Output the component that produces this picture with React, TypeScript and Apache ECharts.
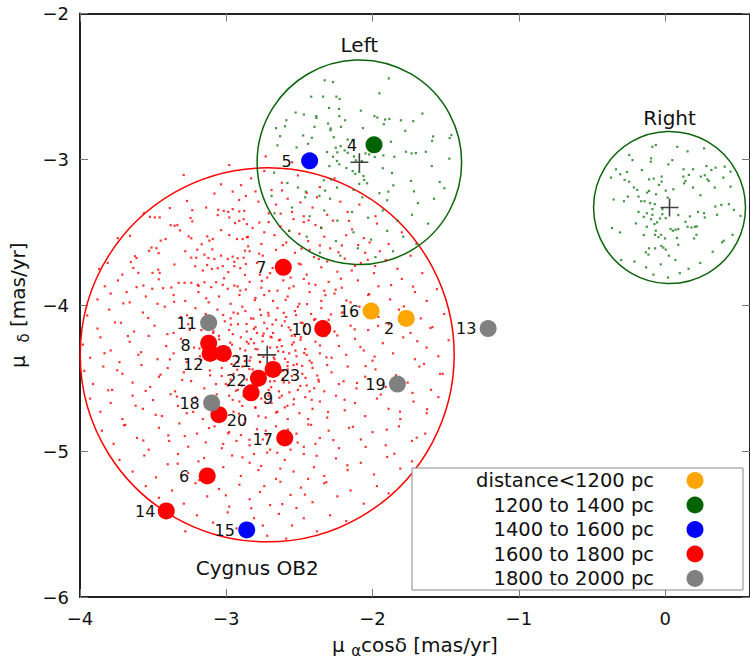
import React, { useEffect, useRef } from 'react';
import * as echarts from 'echarts';

const FONT = '"DejaVu Sans", sans-serif';

// ---- Data -----------------------------------------------------------
const starIds = ['2', '4', '5', '6', '7', '8', '9', '10', '11', '12', '13', '14', '15', '16', '17', '18', '19', '20', '21', '22', '23'];
const starPmRa = [-1.77, -1.99, -2.43, -3.13, -2.61, -3.12, -2.83, -2.34, -3.12, -3.11, -1.21, -3.41, -2.86, -2.01, -2.60, -3.10, -1.83, -3.05, -3.02, -2.78, -2.68];
const starPmDec = [-4.09, -2.90, -3.01, -5.17, -3.74, -4.26, -4.60, -4.16, -4.12, -4.33, -4.16, -5.41, -5.54, -4.04, -4.91, -4.67, -4.54, -4.75, -4.33, -4.50, -4.44];
const starBin = [0, 1, 2, 3, 3, 3, 3, 3, 4, 3, 4, 3, 2, 0, 3, 4, 4, 3, 3, 3, 3];

const distanceBins = ['distance<1200 pc', '1200 to 1400 pc', '1400 to 1600 pc', '1600 to 1800 pc', '1800 to 2000 pc'];
const binColors = ['#FFA500', '#006400', '#0000FF', '#FF0000', '#808080'];

const regionNames = ['Cygnus OB2', 'Left', 'Right'];
const regionCenters: [number, number][] = [[-2.72, -4.34], [-2.09, -3.02], [0.03, -3.33]];
const regionRadii = [1.28, 0.70, 0.52];
const regionColors = ['#FF0000', '#0B640B', '#0B640B'];

const xTicks = { min: -4, max: 0.58, interval: 1 };
const yTicks = { min: -6, max: -2, interval: 1 };

const cygnusField: [number, number][] = [
  [-3.291, -3.107], [-2.979, -3.039], [-3.035, -3.171], [-2.899, -3.177], [-2.956, -3.221], [-3.081, -3.234], [-3.268, -3.285], [-2.866, -3.251],
  [-3.386, -3.334], [-3.232, -3.348], [-3.137, -3.330], [-3.054, -3.346], [-3.017, -3.353], [-2.986, -3.360], [-2.956, -3.341], [-2.911, -3.357], [-2.877, -3.353],
  [-3.563, -3.369], [-3.522, -3.394], [-3.488, -3.398], [-3.455, -3.398], [-3.058, -3.382], [-2.979, -3.398], [-2.911, -3.421], [-2.881, -3.410],
  [-3.380, -3.451], [-3.353, -3.455], [-3.334, -3.451], [-3.232, -3.425], [-2.940, -3.437], [-2.859, -3.444],
  [-3.257, -3.528], [-3.239, -3.541], [-3.130, -3.528], [-3.115, -3.557], [-3.092, -3.546], [-3.035, -3.485], [-2.979, -3.519], [-2.927, -3.546], [-2.859, -3.534],
  [-3.742, -3.540], [-3.658, -3.524], [-3.414, -3.546], [-3.448, -3.557], [-3.511, -3.604], [-3.477, -3.609], [-3.527, -3.627], [-3.280, -3.630], [-3.198, -3.619],
  [-3.624, -3.664], [-3.613, -3.676], [-3.239, -3.674], [-3.205, -3.674], [-3.149, -3.653], [-3.122, -3.676], [-3.081, -3.683],
  [-3.035, -3.660], [-2.990, -3.683], [-2.956, -3.667], [-2.922, -3.678], [-2.881, -3.674], [-2.888, -3.546], [-2.850, -3.596], [-2.872, -3.626],
  [-3.869, -3.751], [-3.810, -3.710], [-3.635, -3.744], [-3.601, -3.778], [-3.710, -3.790], [-3.504, -3.778], [-3.465, -3.756], [-3.455, -3.778],
  [-3.212, -3.733], [-3.160, -3.762], [-3.130, -3.724], [-3.098, -3.751], [-3.058, -3.746], [-3.024, -3.732], [-2.986, -3.773], [-2.945, -3.732], [-2.904, -3.746], [-2.866, -3.717],
  [-3.681, -3.910], [-3.613, -3.876], [-3.506, -3.887], [-3.431, -3.883], [-3.375, -3.878], [-3.325, -3.846], [-3.285, -3.846], [-3.239, -3.846], [-3.194, -3.860],
  [-3.149, -3.842], [-3.103, -3.876], [-3.069, -3.842], [-3.024, -3.860], [-2.990, -3.887], [-2.945, -3.865], [-2.904, -3.899], [-2.866, -3.892],
  [-2.73, -2.98], [-2.55, -3.02], [-2.83, -3.13], [-2.74, -3.08], [-2.69, -3.21], [-2.62, -3.16], [-2.58, -3.27], [-2.51, -3.11], [-2.45, -3.23], [-2.41, -3.33],
  [-2.36, -3.19], [-2.31, -3.38], [-2.22, -3.29], [-2.17, -3.36], [-2.09, -3.31], [-2.78, -3.29], [-2.71, -3.37], [-2.66, -3.31], [-2.55, -3.36], [-2.47, -3.39],
  [-2.80, -3.22], [-2.38, -3.26], [-1.98, -3.39], [-2.26, -3.13],
  [-2.82, -3.47], [-2.76, -3.58], [-2.71, -3.43], [-2.67, -3.52], [-2.63, -3.46], [-2.59, -3.57], [-2.54, -3.41], [-2.50, -3.51], [-2.44, -3.56], [-2.39, -3.45],
  [-2.33, -3.53], [-2.27, -3.42], [-2.21, -3.59], [-2.14, -3.48], [-2.06, -3.54], [-1.97, -3.44], [-1.89, -3.58], [-1.80, -3.50], [-2.74, -3.50], [-2.57, -3.49],
  [-2.36, -3.59], [-2.18, -3.52], [-2.02, -3.57], [-2.47, -3.43],
  [-2.84, -3.63], [-2.79, -3.71], [-2.75, -3.66], [-2.70, -3.78], [-2.66, -3.62], [-2.61, -3.69], [-2.57, -3.76], [-2.53, -3.64], [-2.49, -3.72], [-2.45, -3.79],
  [-2.40, -3.67], [-2.35, -3.74], [-2.29, -3.61], [-2.24, -3.77], [-2.19, -3.68], [-2.12, -3.73], [-2.05, -3.64], [-1.99, -3.78], [-1.91, -3.69], [-1.83, -3.75],
  [-1.74, -3.66], [-1.66, -3.78], [-2.77, -3.79], [-2.63, -3.74], [-2.43, -3.62], [-2.31, -3.70], [-2.08, -3.71], [-1.95, -3.63],
  [-3.88, -3.96], [-3.79, -3.92], [-3.66, -3.98], [-3.55, -3.94], [-3.47, -3.99], [-3.36, -3.93], [-3.28, -3.97], [-3.19, -3.91], [-3.12, -3.98], [-3.05, -3.94],
  [-2.97, -3.99], [-2.91, -3.93], [-3.74, -3.83], [-3.83, -3.87],
  [-2.84, -3.84], [-2.80, -3.95], [-2.76, -3.88], [-2.72, -3.81], [-2.68, -3.97], [-2.65, -3.90], [-2.61, -3.83], [-2.58, -3.94], [-2.54, -3.87], [-2.50, -3.99],
  [-2.47, -3.82], [-2.43, -3.91], [-2.39, -3.86], [-2.35, -3.97], [-2.30, -3.84], [-2.26, -3.92], [-2.21, -3.88], [-2.15, -3.98], [-2.10, -3.83], [-2.03, -3.93],
  [-1.96, -3.87], [-1.88, -3.96], [-1.80, -3.82], [-1.71, -3.91], [-1.63, -3.97], [-1.56, -3.89], [-2.74, -3.93], [-2.56, -3.81], [-2.33, -3.90],
  [-3.95, -4.07], [-3.88, -4.16], [-3.80, -4.03], [-3.72, -4.12], [-3.63, -4.18], [-3.57, -4.05], [-3.49, -4.14], [-3.42, -4.01], [-3.36, -4.19], [-3.31, -4.08],
  [-3.26, -4.13], [-3.21, -4.02], [-3.17, -4.17], [-3.14, -4.06], [-3.09, -4.19], [-3.06, -4.03], [-3.01, -4.11], [-2.98, -4.17], [-2.95, -4.05], [-2.92, -4.13],
  [-2.89, -4.01], [-2.86, -4.18], [-2.83, -4.09], [-2.80, -4.15], [-2.77, -4.03], [-2.74, -4.12], [-2.71, -4.07], [-2.68, -4.19], [-2.65, -4.02], [-2.62, -4.14],
  [-2.59, -4.08], [-2.56, -4.17], [-2.53, -4.04], [-2.49, -4.12], [-2.46, -4.19], [-2.42, -4.06], [-2.38, -4.15], [-2.35, -4.02], [-2.30, -4.10], [-2.26, -4.18],
  [-2.21, -4.05], [-2.15, -4.14], [-2.09, -4.01], [-2.03, -4.17], [-1.96, -4.08], [-1.89, -4.13], [-1.82, -4.03], [-1.74, -4.19], [-1.67, -4.09], [-1.59, -4.15],
  [-1.51, -4.06], [-2.97, -4.09], [-2.79, -4.19], [-2.66, -4.10], [-2.51, -4.01], [-2.87, -4.04], [-2.60, -4.11], [-3.11, -4.13], [-2.40, -4.10], [-2.72, -4.16],
  [-3.98, -4.27], [-3.93, -4.36], [-3.86, -4.22], [-3.79, -4.31], [-3.73, -4.39], [-3.66, -4.25], [-3.60, -4.34], [-3.53, -4.21], [-3.47, -4.37], [-3.41, -4.28],
  [-3.36, -4.33], [-3.31, -4.23], [-3.27, -4.39], [-3.22, -4.29], [-3.18, -4.35], [-3.15, -4.24], [-3.05, -4.21], [-3.00, -4.38], [-2.96, -4.27], [-2.93, -4.35],
  [-2.90, -4.22], [-2.87, -4.31], [-2.84, -4.38], [-2.81, -4.26], [-2.78, -4.34], [-2.75, -4.21], [-2.70, -4.29], [-2.67, -4.37], [-2.64, -4.24], [-2.61, -4.32],
  [-2.58, -4.39], [-2.55, -4.27], [-2.52, -4.35], [-2.49, -4.22], [-2.46, -4.30], [-2.43, -4.38], [-2.39, -4.25], [-2.36, -4.33], [-2.32, -4.21], [-2.28, -4.36],
  [-2.23, -4.28], [-2.18, -4.34], [-2.12, -4.23], [-2.06, -4.31], [-2.00, -4.38], [-1.93, -4.26], [-1.86, -4.33], [-1.79, -4.22], [-1.71, -4.37], [-1.63, -4.29],
  [-1.55, -4.35], [-1.48, -4.24], [-2.98, -4.31], [-2.86, -4.25], [-2.77, -4.39], [-2.62, -4.28], [-2.53, -4.21], [-2.45, -4.34], [-2.80, -4.30], [-2.69, -4.22],
  [-2.57, -4.33], [-2.92, -4.39], [-3.08, -4.29], [-3.12, -4.37],
  [-3.97, -4.45], [-3.91, -4.54], [-3.84, -4.42], [-3.78, -4.58], [-3.71, -4.47], [-3.64, -4.53], [-3.58, -4.41], [-3.52, -4.56], [-3.46, -4.49], [-3.40, -4.43],
  [-3.35, -4.59], [-3.29, -4.46], [-3.24, -4.52], [-3.19, -4.41], [-3.15, -4.57], [-3.11, -4.48], [-3.03, -4.43], [-2.99, -4.55], [-2.95, -4.47], [-2.92, -4.58],
  [-2.89, -4.42], [-2.86, -4.51], [-2.82, -4.44], [-2.79, -4.56], [-2.74, -4.49], [-2.71, -4.58], [-2.67, -4.52], [-2.64, -4.59], [-2.61, -4.45], [-2.57, -4.53],
  [-2.54, -4.41], [-2.51, -4.58], [-2.48, -4.47], [-2.45, -4.55], [-2.41, -4.43], [-2.37, -4.51], [-2.33, -4.59], [-2.28, -4.46], [-2.23, -4.54], [-2.17, -4.42],
  [-2.11, -4.57], [-2.05, -4.49], [-1.98, -4.44], [-1.91, -4.56], [-1.84, -4.48], [-1.76, -4.53], [-1.68, -4.42], [-1.60, -4.58], [-1.52, -4.47], [-2.97, -4.51],
  [-2.84, -4.57], [-2.58, -4.44], [-2.43, -4.59], [-2.69, -4.43], [-2.31, -4.41], [-3.07, -4.54], [-2.77, -4.51],
  [-3.93, -4.64], [-3.86, -4.73], [-3.79, -4.67], [-3.71, -4.78], [-3.64, -4.62], [-3.57, -4.71], [-3.50, -4.65], [-3.44, -4.76], [-3.38, -4.61], [-3.33, -4.69],
  [-3.27, -4.74], [-3.21, -4.63], [-3.16, -4.78], [-3.12, -4.69], [-2.98, -4.62], [-2.95, -4.73], [-2.91, -4.66], [-2.87, -4.78], [-2.84, -4.61], [-2.80, -4.70],
  [-2.76, -4.64], [-2.73, -4.77], [-2.69, -4.67], [-2.65, -4.73], [-2.62, -4.62], [-2.58, -4.78], [-2.54, -4.68], [-2.50, -4.74], [-2.46, -4.63], [-2.41, -4.71],
  [-2.36, -4.66], [-2.31, -4.77], [-2.25, -4.62], [-2.19, -4.72], [-2.12, -4.67], [-2.05, -4.76], [-1.97, -4.64], [-1.89, -4.71], [-1.81, -4.78], [-1.72, -4.66],
  [-1.63, -4.74], [-1.55, -4.63], [-2.78, -4.76], [-2.60, -4.70], [-2.44, -4.78], [-2.89, -4.69], [-2.71, -4.62],
  [-3.85, -4.86], [-3.77, -4.95], [-3.69, -4.82], [-3.61, -4.91], [-3.53, -4.99], [-3.46, -4.84], [-3.39, -4.93], [-3.32, -4.81], [-3.26, -4.97], [-3.20, -4.88],
  [-3.14, -4.94], [-3.08, -4.83], [-3.03, -4.98], [-2.98, -4.87], [-2.93, -4.93], [-2.88, -4.81], [-2.84, -4.96], [-2.79, -4.85], [-2.75, -4.92], [-2.70, -4.99],
  [-2.66, -4.83], [-2.52, -4.88], [-2.47, -4.97], [-2.42, -4.82], [-2.36, -4.91], [-2.30, -4.86], [-2.23, -4.98], [-2.16, -4.84], [-2.08, -4.92], [-2.00, -4.87],
  [-1.91, -4.96], [-1.82, -4.83], [-1.73, -4.93], [-1.64, -4.88], [-2.90, -4.89], [-2.73, -4.86], [-2.56, -4.99], [-2.39, -4.95],
  [-3.73, -5.06], [-3.64, -5.14], [-3.56, -5.03], [-3.48, -5.18], [-3.40, -5.09], [-3.33, -5.02], [-3.26, -5.15], [-3.19, -5.07], [-3.02, -5.11], [-2.96, -5.03],
  [-2.90, -5.17], [-2.84, -5.08], [-2.78, -5.13], [-2.72, -5.01], [-2.66, -5.19], [-2.60, -5.06], [-2.54, -5.14], [-2.47, -5.02], [-2.40, -5.11], [-2.33, -5.17],
  [-2.25, -5.05], [-2.17, -5.13], [-2.08, -5.08], [-1.99, -5.16], [-1.90, -5.04], [-1.81, -5.12], [-1.73, -5.07], [-2.81, -5.02], [-2.63, -5.12], [-2.44, -5.19],
  [-3.55, -5.24], [-3.46, -5.32], [-3.37, -5.27], [-3.29, -5.36], [-3.21, -5.22], [-3.13, -5.31], [-3.05, -5.26], [-2.98, -5.38], [-2.91, -5.23], [-2.84, -5.33],
  [-2.77, -5.28], [-2.70, -5.37], [-2.63, -5.21], [-2.56, -5.30], [-2.49, -5.25], [-2.41, -5.35], [-2.33, -5.22], [-2.24, -5.31], [-2.15, -5.27], [-2.06, -5.36],
  [-1.97, -5.24], [-1.89, -5.29], [-2.74, -5.24], [-2.52, -5.39],
  [-3.28, -5.55], [-3.20, -5.44], [-3.09, -5.49], [-2.99, -5.42], [-2.93, -5.53], [-2.81, -5.46], [-2.72, -5.58], [-2.64, -5.43], [-2.55, -5.51], [-2.47, -5.46],
  [-2.38, -5.55], [-2.29, -5.44], [-2.18, -5.48], [-2.75, -5.51], [-2.59, -5.60],
];

// extra members in the denser core of the cloud
const cygnusFieldCore: [number, number][] = [
  [-2.713, -4.052], [-2.847, -4.263], [-2.581, -4.417], [-2.934, -4.586], [-2.462, -4.143], [-2.659, -4.735], [-3.021, -4.067], [-2.378, -4.482], [-2.805, -3.965], [-2.527, -4.311],
  [-3.112, -4.447], [-2.241, -4.207], [-2.693, -4.561], [-2.955, -4.198], [-2.416, -4.648], [-2.802, -4.702], [-2.569, -3.884], [-3.183, -4.296], [-2.315, -4.357], [-2.887, -4.481],
  [-2.632, -4.236], [-2.768, -4.387], [-2.494, -4.553], [-3.065, -4.611], [-2.706, -3.902], [-2.198, -4.521], [-2.923, -3.871], [-2.447, -3.992], [-3.249, -4.168], [-2.582, -4.689],
  [-2.744, -4.194], [-2.861, -4.128], [-2.613, -4.502], [-2.998, -4.342], [-2.359, -4.276], [-2.791, -4.626], [-3.137, -3.952], [-2.523, -4.068], [-2.676, -4.358], [-2.912, -4.743],
  [-2.285, -4.063], [-3.301, -4.512], [-2.741, -4.473], [-2.552, -4.209], [-2.833, -4.357], [-2.481, -4.416], [-2.969, -4.133], [-2.636, -4.634], [-2.399, -4.569], [-3.048, -4.234],
  [-2.757, -3.833], [-2.594, -3.963], [-2.872, -3.792], [-2.435, -3.851], [-3.015, -3.815], [-2.322, -3.931], [-3.189, -3.868], [-2.683, -3.745], [-2.504, -3.715], [-2.945, -3.702],
  [-2.216, -3.818], [-2.775, -3.646], [-3.095, -3.617], [-2.367, -3.683], [-2.612, -3.588], [-2.486, -3.612], [-2.852, -3.532], [-2.179, -3.967], [-3.356, -3.976], [-3.268, -4.069],
  [-3.402, -4.198], [-3.385, -4.371], [-3.449, -4.476], [-3.337, -4.626], [-3.226, -4.731], [-3.118, -4.842], [-2.987, -4.878], [-2.841, -4.922], [-2.724, -4.889], [-2.578, -4.853],
  [-2.439, -4.817], [-2.304, -4.732], [-2.191, -4.648], [-2.106, -4.533], [-2.047, -4.417], [-2.083, -4.286], [-2.122, -4.165], [-2.196, -4.049], [-2.252, -3.893], [-2.142, -3.762],
  [-3.021, -4.951], [-2.889, -5.043], [-2.651, -5.011], [-2.512, -4.941], [-2.382, -5.032], [-3.151, -5.047], [-2.762, -5.102], [-3.283, -4.897], [-2.268, -4.924], [-2.134, -4.833],
  [-1.986, -4.352], [-1.944, -4.612], [-1.962, -4.141], [-2.023, -3.923], [-3.461, -3.822], [-3.533, -4.087], [-3.582, -4.322], [-3.551, -4.587], [-3.482, -4.751], [-3.396, -4.892],
  [-2.786, -4.302], [-2.653, -4.288], [-2.717, -4.415], [-2.842, -4.437], [-2.598, -4.367], [-2.752, -4.248], [-2.905, -4.297], [-2.629, -4.457], [-2.964, -4.403], [-2.539, -4.254],
  [-2.811, -4.162], [-2.684, -4.132], [-2.552, -4.486], [-2.893, -4.551], [-2.701, -4.522], [-3.031, -4.485], [-2.467, -4.327], [-2.973, -4.256], [-2.763, -4.067], [-2.607, -4.052],
  [-2.492, -4.236], [-2.416, -4.394], [-2.458, -4.498], [-3.087, -4.179], [-3.171, -4.373], [-2.881, -4.623], [-2.735, -4.663], [-2.568, -4.597], [-2.339, -4.212], [-2.391, -4.095],
  [-2.921, -4.057], [-3.057, -4.328], [-2.831, -4.232], [-2.697, -4.216], [-2.573, -4.152], [-2.664, -4.409], [-2.795, -4.528], [-2.517, -4.404], [-2.925, -4.442], [-2.645, -4.315],
  [-2.872, -4.382], [-2.746, -4.354], [-2.607, -4.529], [-3.003, -4.539], [-2.814, -4.092], [-2.478, -4.121], [-2.367, -4.523], [-2.537, -4.644], [-2.706, -4.601], [-2.956, -4.649],
  [-3.672, -4.211], [-3.745, -4.446], [-3.619, -4.689], [-3.807, -4.583], [-3.703, -3.987], [-3.566, -3.865], [-3.354, -3.721], [-3.462, -3.643], [-3.168, -3.582], [-3.316, -3.487],
  [-2.774, -3.433], [-2.628, -3.372], [-2.493, -3.295], [-2.352, -3.468], [-2.233, -3.637], [-2.098, -3.587], [-1.982, -3.731], [-1.873, -3.862], [-1.786, -4.008], [-1.694, -4.247],
  [-1.648, -4.402], [-1.727, -4.601], [-1.812, -4.729], [-1.903, -4.853], [-2.047, -4.971], [-2.172, -5.097], [-2.316, -5.213], [-2.462, -5.298], [-2.617, -5.363], [-2.829, -5.392],
  [-3.003, -5.303], [-3.184, -5.199], [-3.332, -5.086], [-3.567, -4.927], [-3.699, -4.823], [-3.832, -4.329], [-3.761, -4.118], [-3.652, -3.704], [-3.244, -3.402], [-2.912, -3.278],
  [-2.618, -3.213], [-2.437, -3.418], [-2.161, -3.421], [-2.033, -3.688], [-1.723, -3.872], [-1.604, -4.156], [-1.538, -4.471], [-1.627, -4.713], [-1.698, -4.908], [-1.851, -5.018],
];

const leftField: [number, number][] = [
  [-2.327, -2.458], [-2.270, -2.470], [-1.889, -2.445], [-1.953, -2.547], [-2.419, -2.570], [-2.338, -2.570], [-2.247, -2.570], [-2.225, -2.586],
  [-2.297, -2.647], [-2.229, -2.654], [-2.080, -2.666], [-1.659, -2.686], [-2.526, -2.679], [-2.469, -2.693], [-2.385, -2.704], [-2.383, -2.716],
  [-2.227, -2.704], [-1.987, -2.704], [-1.967, -2.713], [-1.914, -2.727], [-1.885, -2.722], [-1.806, -2.732], [-1.722, -2.738], [-2.589, -2.732],
  [-2.304, -2.754], [-2.286, -2.788], [-2.216, -2.777], [-2.188, -2.732], [-1.923, -2.759], [-2.659, -2.786], [-2.598, -2.773], [-2.397, -2.777],
  [-2.288, -2.800], [-2.066, -2.786], [-1.776, -2.804], [-1.586, -2.843], [-1.461, -2.834], [-2.632, -2.841], [-2.474, -2.836], [-2.415, -2.852],
  [-2.265, -2.848], [-2.170, -2.864], [-2.136, -2.866], [-1.874, -2.879], [-1.593, -2.873], [-1.473, -2.854], [-2.519, -2.918], [-2.218, -2.909],
  [-2.252, -2.920], [-2.241, -2.952], [-2.191, -2.939], [-2.170, -2.955], [-1.960, -2.939], [-1.926, -2.973], [-1.772, -2.948], [-1.733, -2.959],
  [-1.704, -2.957], [-1.636, -2.948], [-2.650, -2.904], [-2.440, -2.893], [-2.311, -2.950], [-2.270, -2.982], [-2.243, -3.011], [-2.227, -3.034],
  [-2.127, -2.980], [-2.114, -3.007], [-2.073, -3.011], [-2.048, -2.959], [-2.023, -2.966], [-1.985, -2.984], [-1.930, -3.061], [-1.851, -2.982],
  [-1.595, -3.046], [-1.475, -2.995], [-2.295, -3.046], [-2.179, -3.059], [-2.136, -3.080], [-2.118, -3.100], [-2.091, -3.087], [-2.062, -3.114],
  [-1.867, -3.093], [-2.057, -3.141], [-2.037, -3.164], [-2.284, -3.137], [-2.333, -3.143], [-1.858, -3.178], [-1.738, -3.148], [-1.541, -3.155],
  [-1.509, -3.198], [-1.717, -3.219], [-1.892, -3.221], [-1.953, -3.232], [-2.091, -3.168], [-2.130, -3.209], [-2.243, -3.193], [-2.324, -3.214],
  [-2.363, -3.250], [-2.456, -3.221], [-2.673, -3.091], [-2.582, -3.162], [-2.510, -3.193],
  [-2.29, -3.27], [-2.07, -3.26], [-1.90, -3.28], [-1.69, -3.30], [-1.58, -3.27], [-2.67, -3.37], [-2.55, -3.33], [-2.43, -3.39], [-2.33, -3.35],
  [-2.24, -3.42], [-2.14, -3.36], [-2.03, -3.40], [-1.93, -3.35], [-1.83, -3.42], [-1.73, -3.38], [-1.62, -3.44], [-2.57, -3.49], [-2.45, -3.53],
  [-2.35, -3.47], [-2.25, -3.56], [-2.13, -3.50], [-2.01, -3.55], [-1.90, -3.49], [-1.79, -3.53], [-1.70, -3.58], [-2.36, -3.64], [-2.22, -3.66],
  [-2.10, -3.61], [-1.98, -3.67], [-1.86, -3.63], [-2.69, -3.25], [-2.46, -3.26],
];

const rightField: [number, number][] = [
  [-0.064, -2.902], [-0.087, -2.914], [0.083, -2.914], [-0.246, -2.970], [-0.096, -2.993], [-0.223, -3.005], [0.153, -2.945], [0.266, -2.925],
  [0.049, -3.005], [0.022, -3.034], [-0.098, -3.016], [-0.336, -3.068], [-0.307, -3.102], [-0.370, -3.125], [-0.261, -3.086], [-0.159, -3.073],
  [-0.277, -3.141], [-0.246, -3.153], [-0.110, -3.137], [-0.078, -3.132], [-0.024, -3.118], [-0.024, -3.153], [-0.042, -3.175], [0.126, -3.068],
  [0.191, -3.068], [0.282, -3.046], [0.316, -3.073], [0.345, -3.057], [0.407, -3.050], [0.447, -3.084], [0.124, -3.118], [0.162, -3.107],
  [0.139, -3.148], [0.130, -3.164], [0.191, -3.193], [0.244, -3.118], [0.271, -3.109], [0.289, -3.137], [0.298, -3.148], [0.398, -3.125],
  [0.339, -3.193], [0.447, -3.187], [-0.214, -3.193], [-0.191, -3.209], [-0.110, -3.216], [-0.182, -3.255], [-0.255, -3.255], [-0.282, -3.287],
  [-0.352, -3.275], [-0.164, -3.287], [-0.141, -3.287], [-0.103, -3.300], [-0.071, -3.307], [-0.123, -3.228], [0.004, -3.214], [0.056, -3.205],
  [0.017, -3.262], [-0.062, -3.239], [0.241, -3.246], [-0.087, -3.341], [-0.019, -3.341], [-0.087, -3.380], [-0.096, -3.410], [-0.146, -3.394],
  [-0.182, -3.360], [-0.125, -3.369], [-0.035, -3.405], [0.004, -3.403], [-0.055, -3.432], [-0.073, -3.444], [-0.019, -3.376], [0.090, -3.382],
  [0.169, -3.391], [0.225, -3.360], [0.266, -3.369], [0.271, -3.398], [0.343, -3.323], [0.384, -3.312], [0.436, -3.307], [0.470, -3.346],
  [0.515, -3.387], [0.355, -3.380], [0.139, -3.428], [-0.200, -3.439], [-0.125, -3.462], [-0.064, -3.489], [-0.069, -3.517], [-0.046, -3.533],
  [-0.028, -3.517], [0.037, -3.478], [0.053, -3.489], [0.071, -3.482], [0.090, -3.478], [0.153, -3.462], [0.180, -3.467], [0.203, -3.462],
  [0.216, -3.460], [0.198, -3.542], [0.214, -3.517], [-0.363, -3.471], [-0.309, -3.501], [-0.146, -3.519], [-0.001, -3.542], [0.090, -3.585],
  [0.081, -3.539], [0.026, -3.660], [0.004, -3.619], [-0.069, -3.610], [-0.110, -3.610], [-0.132, -3.637], [-0.114, -3.653], [-0.012, -3.605],
  [-0.026, -3.594], [0.400, -3.558], [0.461, -3.517], [0.389, -3.569], [0.325, -3.633],
  [-0.21, -3.70], [-0.13, -3.74], [-0.03, -3.72], [0.07, -3.69], [0.16, -3.75], [-0.08, -3.79], [0.02, -3.81], [0.24, -3.71], [-0.30, -3.69], [0.10, -3.78],
];

// ---- Layout (pixels) -------------------------------------------------
const labelOffset: Record<string, [number, number]> = {
  '2': [-17, 10], '4': [-22, 1], '5': [-23, 1], '6': [-23, 1], '7': [-22, 0], '8': [-23, 2],
  '9': [17, 6], '10': [-21, 1], '11': [-22, 1], '12': [-17, 11], '13': [-22, 0], '14': [-21, 1],
  '15': [-22, 1], '16': [-22, 0], '17': [-22, 2], '18': [-22, 1], '19': [-22, 0], '20': [18, 6],
  '21': [18, 8], '22': [-22, 2], '23': [17, 6],
};
const regionLabelPlace: { side: 'top' | 'bottom'; dx: number; gap: number }[] = [
  { side: 'bottom', dx: -10, gap: 26 },
  { side: 'top', dx: 0, gap: 15 },
  { side: 'top', dx: 0, gap: 14 },
];

const minusFmt = (v: number) => (v < 0 ? '\u2212' + Math.abs(v) : String(v));

export default function App() {
  const ref = useRef<HTMLDivElement>(null);
  useEffect(() => {
    document.body.style.margin = '0';
    if (!ref.current) return;
    const chart = echarts.init(ref.current, undefined, { renderer: 'svg' });

    const GRID = { left: 78, top: 13.5, width: 674, height: 585 };
    const axisLine = { show: true, onZero: false, lineStyle: { color: '#222', width: 2 } };
    const axisTick = { show: true, inside: true, length: 8, lineStyle: { color: '#777', width: 1 } };

    const starSeries = distanceBins.map((bin, b) => ({
      type: 'scatter',
      name: bin,
      z: 5,
      symbol: 'circle',
      symbolSize: 17,
      itemStyle: { color: binColors[b], opacity: 1 },
      label: {
        show: true,
        position: 'inside',
        formatter: (p: any) => p.data.id,
        color: '#111',
        fontSize: 16,
        fontFamily: FONT,
      },
      data: starIds
        .map((id, i) => ({ id, i }))
        .filter(({ i }) => starBin[i] === b)
        .map(({ id, i }) => ({
          id,
          value: [starPmRa[i], starPmDec[i]],
          label: { offset: labelOffset[id] || [-22, 0] },
        })),
    }));

    const legendGraphics: any[] = [
      {
        type: 'rect',
        z: 100,
        shape: { x: 412, y: 468, width: 331, height: 122 },
        style: { fill: '#fff', stroke: '#888', lineWidth: 1 },
      },
    ];
    distanceBins.forEach((bin, b) => {
      const y = 480.5 + b * 24.5;
      legendGraphics.push({
        type: 'text',
        z: 101,
        x: 654,
        y,
        style: {
          text: bin,
          font: `19.5px ${FONT}`,
          fill: '#111',
          textAlign: 'right',
          textVerticalAlign: 'middle',
        },
      });
      legendGraphics.push({
        type: 'circle',
        z: 101,
        shape: { cx: 695, cy: y, r: 8.5 },
        style: { fill: binColors[b] },
      });
    });

    const nameRich = {
      m: { fontSize: 20, fontFamily: FONT, color: '#111' },
      s: { fontSize: 15, fontFamily: FONT, color: '#111', padding: [12, 0, 0, 0], verticalAlign: 'bottom' },
    };

    const dotSeries = (name: string, data: [number, number][], color: string, z: number) => ({
      type: 'scatter',
      name,
      z,
      silent: true,
      symbol: 'rect',
      symbolSize: 2.2,
      itemStyle: { color },
      data,
    });

    chart.setOption({
      animation: false,
      grid: { ...GRID, containLabel: false },
      xAxis: [
        {
          type: 'value',
          min: xTicks.min,
          max: xTicks.max,
          interval: xTicks.interval,
          position: 'bottom',
          axisLine,
          axisTick,
          splitLine: { show: false },
          axisLabel: {
            formatter: minusFmt,
            fontSize: 18,
            fontFamily: FONT,
            color: '#111',
            margin: 12,
            showMaxLabel: false,
          },
          name: '{m|\u03bc }{s|\u03b1}{m|cos\u03b4 [mas/yr]}',
          nameLocation: 'middle',
          nameGap: 34,
          nameTextStyle: { rich: nameRich },
        },
        {
          type: 'value',
          min: xTicks.min,
          max: xTicks.max,
          interval: xTicks.interval,
          position: 'top',
          axisLine,
          axisTick,
          splitLine: { show: false },
          axisLabel: { show: false },
        },
      ],
      yAxis: [
        {
          type: 'value',
          min: yTicks.min,
          max: yTicks.max,
          interval: yTicks.interval,
          position: 'left',
          axisLine,
          axisTick,
          splitLine: { show: false },
          axisLabel: { formatter: minusFmt, fontSize: 18, fontFamily: FONT, color: '#111', margin: 11 },
          name: '{m|\u03bc  }{s|\u03b4}{m| [mas/yr]}',
          nameLocation: 'middle',
          nameGap: 36,
          nameTextStyle: { rich: nameRich },
        },
        {
          type: 'value',
          min: yTicks.min,
          max: yTicks.max,
          interval: yTicks.interval,
          position: 'right',
          axisLine,
          axisTick,
          splitLine: { show: false },
          axisLabel: { show: false },
        },
      ],
      graphic: legendGraphics,
      series: [
        {
          type: 'custom',
          name: 'regions',
          z: 1,
          silent: true,
          data: regionNames.map((n, i) => [regionCenters[i][0], regionCenters[i][1], regionRadii[i], i]),
          encode: { x: 0, y: 1 },
          renderItem: (params: any, api: any) => {
            const idx = api.value(3);
            const c = api.coord([api.value(0), api.value(1)]);
            const sz = api.size([api.value(2), api.value(2)]);
            const r = (sz[0] + sz[1]) / 2;
            const pl = regionLabelPlace[idx];
            const ly = pl.side === 'top' ? c[1] - r - pl.gap : c[1] + r + pl.gap;
            return {
              type: 'group',
              children: [
                {
                  type: 'circle',
                  shape: { cx: c[0], cy: c[1], r },
                  style: { fill: 'none', stroke: regionColors[idx], lineWidth: 1.5 },
                },
                {
                  type: 'text',
                  x: c[0] + pl.dx,
                  y: ly,
                  style: {
                    text: regionNames[idx],
                    font: `20px ${FONT}`,
                    fill: '#111',
                    textAlign: 'center',
                    textVerticalAlign: 'middle',
                  },
                },
              ],
            };
          },
        },
        dotSeries('Cygnus OB2 field', cygnusField.concat(cygnusFieldCore), '#FF0000', 2),
        dotSeries('Left field', leftField, '#167a16', 3),
        dotSeries('Right field', rightField, '#167a16', 3),
        {
          type: 'scatter',
          name: 'centres',
          z: 4,
          silent: true,
          symbol: 'path://M-1,-0.09H1V0.09H-1Z M-0.09,-1H0.09V1H-0.09Z',
          symbolSize: 18,
          itemStyle: { color: '#111' },
          data: regionCenters,
        },
        ...starSeries,
      ],
    } as any);
    return () => chart.dispose();
  }, []);
  return <div ref={ref} style={{ width: 750, height: 663, overflow: 'hidden' }} />;
}
